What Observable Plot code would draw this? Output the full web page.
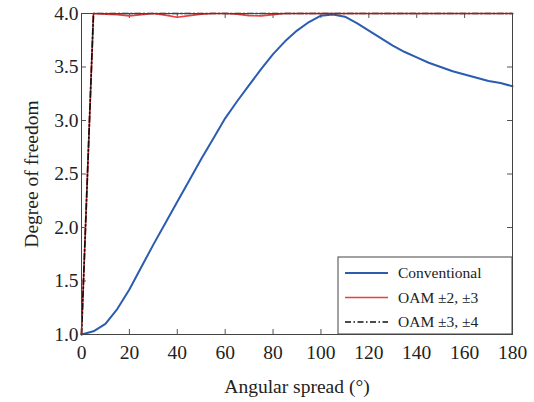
<!DOCTYPE html>
<html>
<head>
<meta charset="utf-8">
<script src="https://cdn.jsdelivr.net/npm/d3@7"></script>
<script src="https://cdn.jsdelivr.net/npm/@observablehq/plot@0.6"></script>
<style>
  html, body { margin: 0; padding: 0; background: #fff; }
  #chart { width: 534px; height: 402px; }
</style>
</head>
<body>
<div id="chart"></div>
<script>
const angles = [0,5,10,15,20,25,30,35,40,45,50,55,60,65,70,75,80,85,90,95,100,105,110,115,120,125,130,135,140,145,150,155,160,165,170,175,180];
const conventional = [1.00,1.03,1.10,1.24,1.42,1.63,1.84,2.04,2.24,2.44,2.64,2.83,3.02,3.18,3.33,3.48,3.62,3.74,3.84,3.92,3.98,3.99,3.97,3.91,3.84,3.77,3.70,3.64,3.59,3.54,3.50,3.46,3.43,3.40,3.37,3.35,3.32];
const oam23 = [1.00,4.00,3.995,3.99,3.978,3.99,4.00,3.985,3.965,3.98,3.995,4.00,4.00,3.995,3.98,3.978,3.99,4.00,4.00,4.00,4.00,4.00,4.00,4.00,4.00,4.00,4.00,4.00,4.00,4.00,4.00,4.00,4.00,4.00,4.00,4.00,4.00];
const oam34 = [1.00,4.00,4.00,4.00,4.00,4.00,4.00,4.00,4.00,4.00,4.00,4.00,4.00,4.00,4.00,4.00,4.00,4.00,4.00,4.00,4.00,4.00,4.00,4.00,4.00,4.00,4.00,4.00,4.00,4.00,4.00,4.00,4.00,4.00,4.00,4.00,4.00];
const seriesNames = ["Conventional", "OAM \u00b12, \u00b13", "OAM \u00b13, \u00b14"];
const xTicks = [0,20,40,60,80,100,120,140,160,180];
const yTicks = [1.0,1.5,2.0,2.5,3.0,3.5,4.0];
const xLabel = "Angular spread (\u00b0)";
const yLabel = "Degree of freedom";

const colors = ["#2a5cb0", "#f03c3c", "#111111"];
const dashes = [null, null, "6,2.5,1.5,2.5"];
const widths = [2, 1.7, 1.7];

const seriesValues = [conventional, oam23, oam34];
const data = seriesValues.map((vals, i) => angles.map((a, j) => ({x: a, y: vals[j], s: seriesNames[i]})));

const W = 534, H = 402;
const mL = 81, mR = 22, mT = 13, mB = 68;
const innerW = W - mL - mR, innerH = H - mT - mB;
const tk = 5;
const font = "Liberation Serif, Times New Roman, Times, DejaVu Serif, serif";

const svg = Plot.plot({
  width: W, height: H,
  marginLeft: mL, marginRight: mR, marginTop: mT, marginBottom: mB,
  style: {fontFamily: font, fontSize: "18px", color: "#222", background: "#fff"},
  x: {domain: [0, 180]},
  y: {domain: [1, 4]},
  marks: [
    Plot.tickX(xTicks, {x: d => d, insetTop: innerH - tk, stroke: "#555"}),
    Plot.tickX(xTicks, {x: d => d, insetBottom: innerH - tk, stroke: "#555"}),
    Plot.tickY(yTicks, {y: d => d, insetRight: innerW - tk, stroke: "#555"}),
    Plot.tickY(yTicks, {y: d => d, insetLeft: innerW - tk, stroke: "#555"}),
    ...data.map((d, i) => Plot.line(d, {x: "x", y: "y", stroke: colors[i], strokeWidth: widths[i], strokeDasharray: dashes[i]})),
    Plot.frame({stroke: "#444", strokeWidth: 1}),
    Plot.axisX(xTicks, {tickSize: 0, tickPadding: 11, fontSize: 19.5, label: xLabel, labelArrow: "none", labelAnchor: "center", labelOffset: 58}),
    Plot.axisY(yTicks, {tickSize: 0, tickPadding: 3, fontSize: 19.5, tickFormat: d => d.toFixed(1), label: yLabel, labelArrow: "none", labelAnchor: "center", labelOffset: 57})
  ]
});
document.getElementById("chart").appendChild(svg);

// In-plot legend, drawn in the lower-right corner of the frame
const g = d3.select(svg).append("g").attr("font-size", 15.5).attr("text-anchor", "start");
const lx0 = 338, ly0 = 257, lw = W - mR - lx0, lh = (H - mB) - ly0;
g.append("rect").attr("x", lx0).attr("y", ly0).attr("width", lw).attr("height", lh)
  .attr("fill", "#fff").attr("stroke", "#444");
seriesNames.forEach((name, i) => {
  const yy = ly0 + 16 + i * 24.5;
  g.append("line").attr("x1", lx0 + 7).attr("x2", lx0 + 50).attr("y1", yy).attr("y2", yy)
    .attr("stroke", colors[i]).attr("stroke-width", widths[i]).attr("stroke-dasharray", dashes[i]);
  g.append("text").attr("x", lx0 + 60).attr("y", yy).attr("dy", "0.35em").attr("fill", "#222").text(name);
});

// force serif face on every text element
d3.select(svg).style("font-family", font).selectAll("text, g")
  .attr("font-family", font).style("font-family", font).style("font-variant", "normal");
</script>
</body>
</html>
